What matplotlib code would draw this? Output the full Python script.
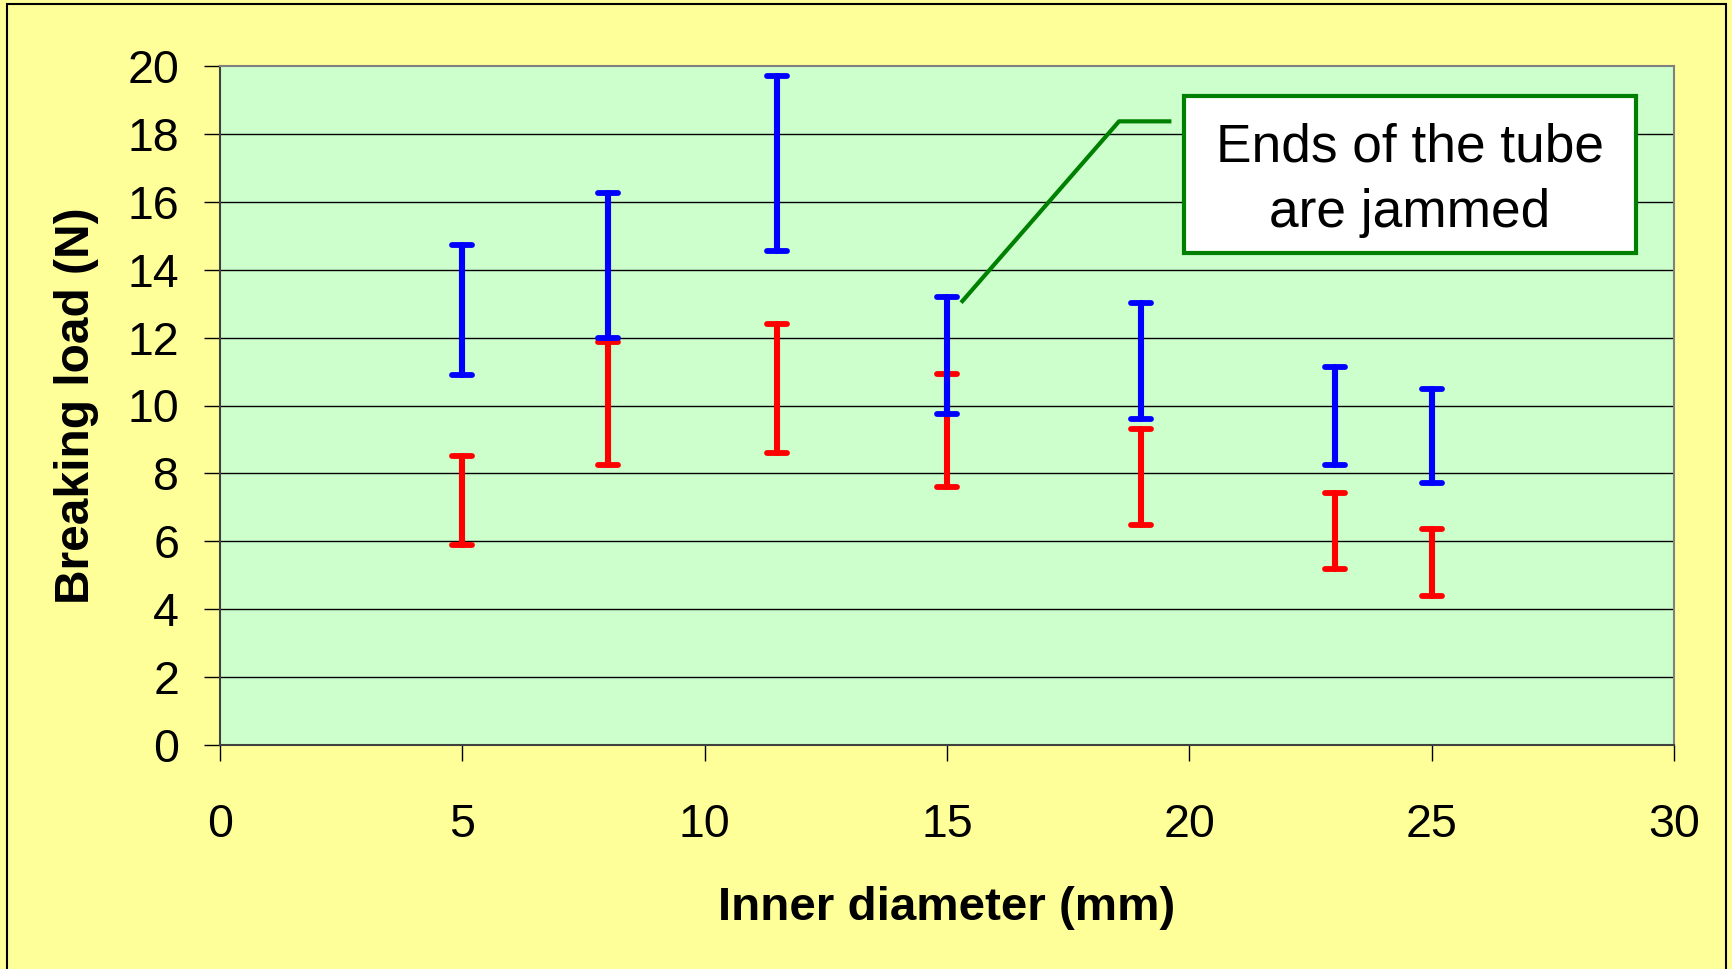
import matplotlib
matplotlib.use("Agg")
import matplotlib.pyplot as plt
import matplotlib.patches as patches
from matplotlib.markers import MarkerStyle
import numpy as np

plt.rcParams['font.family'] = ['Liberation Sans', 'DejaVu Sans']

# Data: inner diameter (mm) and breaking load ranges (N)
diameters = [5, 8, 11.5, 15, 19, 23, 25]
blue_low = [10.9, 12.0, 14.55, 9.75, 9.6, 8.25, 7.72]
blue_high = [14.72, 16.25, 19.7, 13.19, 13.03, 11.12, 10.48]
red_low = [5.9, 8.24, 8.6, 7.59, 6.48, 5.18, 4.40]
red_high = [8.5, 11.86, 12.41, 10.93, 9.32, 7.43, 6.35]

x_ticks = [0, 5, 10, 15, 20, 25, 30]
y_ticks = [0, 2, 4, 6, 8, 10, 12, 14, 16, 18, 20]

annotation_text = "Ends of the tube\nare jammed"
# leader line path (data coords): pointed end, elbow, end near box
leader_x = [15.29, 18.55, 19.63]
leader_y = [13.03, 18.37, 18.37]

W, H = 1733, 969
fig = plt.figure(figsize=(W / 100, H / 100), dpi=100)
fig.patch.set_facecolor('#FFFF99')

ax = fig.add_axes([220 / W, 1 - 745 / H, (1674 - 220) / W, (745 - 66) / H])
ax.set_facecolor('#CCFFCC')
ax.set_xlim(0, 30)
ax.set_ylim(0, 20)
ax.set_xticks(x_ticks)
ax.set_yticks(y_ticks)
ax.tick_params(axis='both', direction='out', length=11.5, width=1, color='black',
               labelsize=33.5)
ax.tick_params(axis='x', pad=30)
ax.tick_params(axis='y', pad=18)
for yv in y_ticks[1:-1]:
    ax.axhline(yv, color='black', lw=1, zorder=1)

for side in ['top', 'right']:
    ax.spines[side].set_color('#808080')
    ax.spines[side].set_linewidth(1.5)
for side in ['left', 'bottom']:
    ax.spines[side].set_color('#404040')
    ax.spines[side].set_linewidth(1.5)

def draw_ranges(lo, hi, color, z):
    lo = np.asarray(lo)
    hi = np.asarray(hi)
    mid = (lo + hi) / 2
    half = (hi - lo) / 2
    _, caps, bars = ax.errorbar(diameters, mid, yerr=half, fmt='none', ecolor=color,
                                elinewidth=4.4, capsize=7.2, capthick=4.2, zorder=z)
    for c in caps:
        c.set_marker(MarkerStyle('_', capstyle='round'))
    for b in bars:
        b.set_capstyle('round')

draw_ranges(red_low, red_high, '#FF0000', 3)
draw_ranges(blue_low, blue_high, '#0000FF', 4)

ax.set_xlabel('Inner diameter (mm)', fontsize=34.2, fontweight='bold', labelpad=28)
ax.set_ylabel('Breaking load (N)', fontsize=34.5, fontweight='bold', labelpad=20)

# Annotation leader line
ax.plot(leader_x, leader_y, color='#008000', lw=3, solid_capstyle='butt', zorder=5,
        clip_on=False)

# Annotation box (figure pixel coords)
bx0, by0, bx1, by1 = 1184, 96, 1636, 253
box = patches.Rectangle((bx0 / W, 1 - by1 / H), (bx1 - bx0) / W, (by1 - by0) / H,
                        transform=fig.transFigure, facecolor='white',
                        edgecolor='#008000', lw=3, zorder=6)
fig.patches.append(box)
fig.text((bx0 + bx1) / 2 / W, 1 - 180 / H, annotation_text, ha='center', va='center',
         fontsize=38.3, linespacing=1.4, zorder=7)

# Figure border
border = patches.Rectangle((7 / W, -0.02), (1726 - 7) / W, 1 - 4 / H + 0.02,
                           transform=fig.transFigure, facecolor='none',
                           edgecolor='black', lw=1.5, zorder=10)
fig.patches.append(border)

fig.savefig('out.png', dpi=100, facecolor=fig.get_facecolor())
